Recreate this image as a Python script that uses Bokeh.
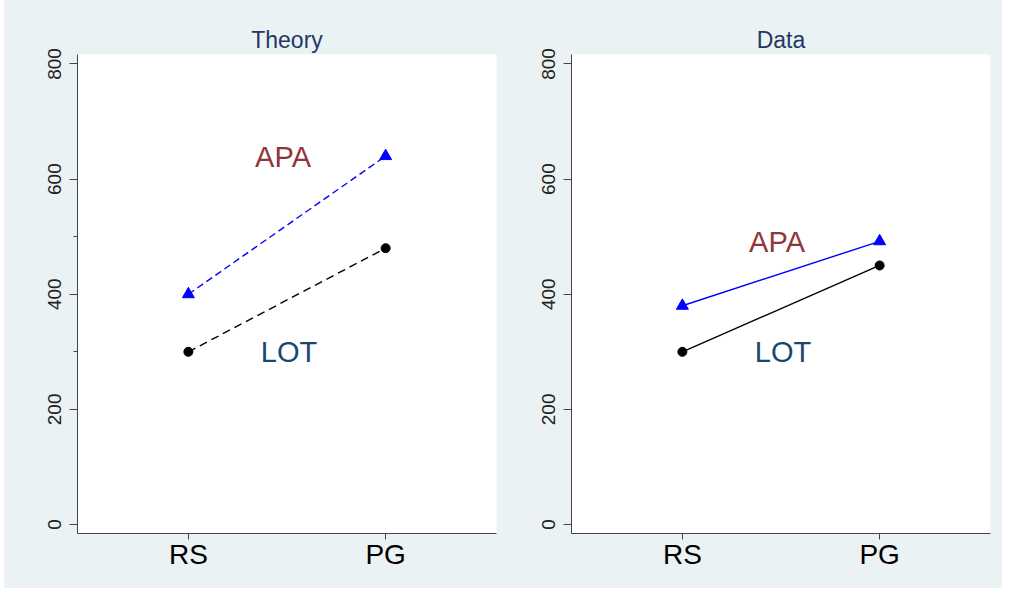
from bokeh.plotting import figure
from bokeh.layouts import row, Spacer
from bokeh.models import Range1d, FixedTicker, ColumnDataSource
from bokeh.core.properties import value
from bokeh.embed import file_html
from bokeh.resources import INLINE

# ---- data ----
categories = ["RS", "PG"]
theory_apa = [400, 640]
theory_lot = [300, 480]
data_apa = [380, 492]
data_lot = [300, 450]
panel_titles = ["Theory", "Data"]
y_ticks = [0, 200, 400, 600, 800]
theory_minor_ticks = [300, 500]
# annotation positions (x in category index units, y in data units)
theory_labels = {"APA": (0.48, 638), "LOT": (0.51, 300)}
data_labels = {"APA": (0.48, 490), "LOT": (0.51, 300)}

BG = "#EAF2F3"
FONT = "Liberation Sans"
x_pos = list(range(len(categories)))


def make_panel(title, apa, lot, labels, dashed, minor, left_border, right_border):
    p = figure(width=left_border + 419 + right_border, height=588,
               output_backend="svg", toolbar_location=None,
               x_range=Range1d(-0.562, len(categories) - 1 + 0.562),
               y_range=Range1d(-15.6, 816.5),
               min_border_left=left_border, min_border_right=right_border,
               min_border_top=54, min_border_bottom=55)
    p.background_fill_color = "white"
    p.border_fill_color = BG
    p.outline_line_color = None
    p.grid.visible = False

    p.title.text = title
    p.title.align = "center"
    p.title.text_font = FONT
    p.title.text_font_size = "23px"
    p.title.text_font_style = "normal"
    p.title.text_color = "#1F3864"
    p.title.standoff = 3

    # x axis
    xa = p.xaxis[0]
    xa.ticker = FixedTicker(ticks=x_pos)
    xa.major_label_overrides = {i: c for i, c in zip(x_pos, categories)}
    xa.major_label_text_font = FONT
    xa.major_label_text_font_size = "28px"
    xa.major_label_text_color = "black"
    xa.major_tick_in = 0
    xa.major_tick_out = 6
    xa.minor_tick_out = 0
    xa.minor_tick_in = 0
    xa.axis_line_color = "#444444"
    xa.major_tick_line_color = "#444444"
    xa.major_label_standoff = -1

    # y axis
    ya = p.yaxis[0]
    ya.ticker = FixedTicker(ticks=y_ticks, minor_ticks=minor)
    ya.major_label_orientation = "vertical"
    ya.major_label_text_font = FONT
    ya.major_label_text_font_size = "19px"
    ya.major_label_text_color = "#222222"
    ya.major_tick_in = 0
    ya.major_tick_out = 8
    ya.minor_tick_in = 0
    ya.minor_tick_out = 4
    ya.axis_line_color = "#444444"
    ya.major_tick_line_color = "#444444"
    ya.minor_tick_line_color = "#444444"
    ya.major_label_standoff = 8

    dash_apa = "7 4" if dashed else "solid"
    dash_lot = "8 5" if dashed else "solid"
    src_apa = ColumnDataSource(dict(x=x_pos, y=apa))
    src_lot = ColumnDataSource(dict(x=x_pos, y=lot))
    p.line("x", "y", source=src_apa, line_color="#0000FF", line_width=1.4, line_dash=dash_apa)
    p.line("x", "y", source=src_lot, line_color="black", line_width=1.4, line_dash=dash_lot)
    p.scatter("x", "y", source=src_apa, marker="triangle", size=12,
              fill_color="#0000FF", line_color="#0000FF")
    p.scatter("x", "y", source=src_lot, marker="circle", size=9,
              fill_color="black", line_color="black")

    colors = {"APA": "#90353B", "LOT": "#1A476F"}
    names = list(labels.keys())
    p.text(x=[labels[n][0] for n in names], y=[labels[n][1] for n in names],
           text=names, text_color=[colors[n] for n in names],
           text_font=value(FONT), text_font_size="29px",
           text_align="center", text_baseline="middle")
    return p


# left figure starts at 4 (after white strip): frame 77..496 -> border 73
p1 = make_panel(panel_titles[0], theory_apa, theory_lot, theory_labels, True,
                theory_minor_ticks, 73, 37)
# right figure starts at 533: frame 571..990
p2 = make_panel(panel_titles[1], data_apa, data_lot, data_labels, False,
                [], 38, 12)

panels = row(p1, p2, styles={"background-color": BG})
layout = row(Spacer(width=4, height=588), panels)
open("out.html", "w").write(file_html(layout, INLINE))
